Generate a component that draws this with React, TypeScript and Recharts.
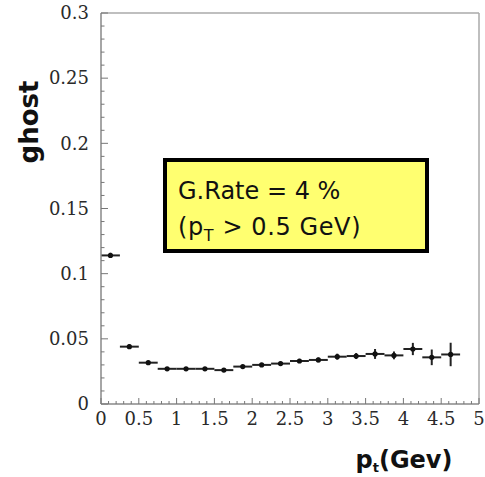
import { ScatterChart, Scatter, XAxis, YAxis, ErrorBar, ReferenceLine } from 'recharts';

// pt bin centres (GeV) and measured ghost rate per bin
const PT_BINS = [0.125, 0.375, 0.625, 0.875, 1.125, 1.375, 1.625, 1.875, 2.125, 2.375, 2.625, 2.875, 3.125, 3.375, 3.625, 3.875, 4.125, 4.375, 4.625];
const GHOST_RATE = [0.114, 0.044, 0.0317, 0.027, 0.027, 0.027, 0.026, 0.0287, 0.03, 0.031, 0.033, 0.0338, 0.0363, 0.0368, 0.0384, 0.0373, 0.0422, 0.0358, 0.038];
const RATE_ERR = [0.002, 0.0018, 0.0015, 0.0012, 0.0012, 0.0012, 0.0012, 0.0013, 0.0014, 0.0015, 0.0016, 0.0018, 0.0023, 0.0023, 0.0038, 0.003, 0.0047, 0.006, 0.009];
const BIN_HALF_WIDTH = 0.125;

const X_MAJOR = [0, 0.5, 1, 1.5, 2, 2.5, 3, 3.5, 4, 4.5, 5];
const X_LABELS = ['0', '0.5', '1', '1.5', '2', '2.5', '3', '3.5', '4', '4.5', '5'];
const Y_MAJOR = [0, 0.05, 0.1, 0.15, 0.2, 0.25, 0.3];
const Y_LABELS = ['0', '0.05', '0.1', '0.15', '0.2', '0.25', '0.3'];

const X_MINOR_STEP = 0.1;
const Y_MINOR_STEP = 0.01;

const data = PT_BINS.map((pt, i) => ({
  pt,
  rate: GHOST_RATE[i],
  xErr: BIN_HALF_WIDTH,
  yErr: RATE_ERR[i],
}));

const xTicks = Array.from({ length: 51 }, (_, i) => Math.round(i * X_MINOR_STEP * 1000) / 1000);
const yTicks = Array.from({ length: 31 }, (_, i) => Math.round(i * Y_MINOR_STEP * 1000) / 1000);

const majorIndex = (list: number[], v: number) => list.findIndex((m) => Math.abs(m - v) < 1e-6);

const TICK_COLOR = '#777';
const LABEL_FONT = '"DejaVu Serif", "Liberation Serif", serif';
const SANS = '"DejaVu Sans", sans-serif';

function XTick(props: any) {
  const { x, y, payload } = props;
  const idx = majorIndex(X_MAJOR, payload.value);
  const len = idx >= 0 ? 6 : 3;
  return (
    <g>
      <line x1={x} x2={x} y1={y} y2={y - len} stroke={TICK_COLOR} strokeWidth={1} />
      {idx >= 0 && (
        <text x={x} y={y + 21} textAnchor="middle" fontSize={18} style={{ fontFamily: LABEL_FONT }} fill="#2a2a2a">
          {X_LABELS[idx]}
        </text>
      )}
    </g>
  );
}

function YTick(props: any) {
  const { x, y, payload } = props;
  const idx = majorIndex(Y_MAJOR, payload.value);
  const len = idx >= 0 ? 7 : 3.5;
  return (
    <g>
      <line x1={x} x2={x + len} y1={y} y2={y} stroke={TICK_COLOR} strokeWidth={1} />
      {idx >= 0 && (
        <text x={x - 12} y={y} dy="0.35em" textAnchor="end" fontSize={18} style={{ fontFamily: LABEL_FONT }} fill="#2a2a2a">
          {Y_LABELS[idx]}
        </text>
      )}
    </g>
  );
}

function Point(props: any) {
  const { cx, cy } = props;
  return <circle cx={cx} cy={cy} r={2.6} fill="#111" />;
}

export default function App() {
  return (
    <div style={{ position: 'absolute', left: 0, top: 0, width: 485, height: 477, background: '#fff' }}>
      <ScatterChart width={485} height={477} margin={{ top: 13, right: 6, bottom: 33, left: 41 }}>
        <XAxis
          type="number"
          dataKey="pt"
          domain={[0, 5]}
          ticks={xTicks}
          interval={0}
          tickSize={0}
          tickMargin={0}
          tickLine={false}
          tick={<XTick />}
          height={40}
          axisLine={{ stroke: '#888', strokeWidth: 1.5 }}
        />
        <YAxis
          type="number"
          dataKey="rate"
          domain={[0, 0.3]}
          ticks={yTicks}
          interval={0}
          tickSize={0}
          tickMargin={0}
          tickLine={false}
          tick={<YTick />}
          width={60}
          axisLine={{ stroke: '#888', strokeWidth: 1.5 }}
        />
        <ReferenceLine y={0.3} stroke="#aaa" strokeWidth={1.5} />
        <ReferenceLine x={5} stroke="#aaa" strokeWidth={1.5} />
        <Scatter data={data} isAnimationActive={false} shape={<Point />} fill="#111">
          <ErrorBar dataKey="xErr" direction="x" width={0} stroke="#222" strokeWidth={2} isAnimationActive={false} />
          <ErrorBar dataKey="yErr" direction="y" width={0} stroke="#222" strokeWidth={2} isAnimationActive={false} />
        </Scatter>
      </ScatterChart>
      <svg width={485} height={477} style={{ position: 'absolute', left: 0, top: 0, pointerEvents: 'none' }}>
        <rect x={165} y={160} width={262} height={91} fill="#ffff70" stroke="#000" strokeWidth={4} />
        <text x={178} y={199} fontSize={24} style={{ fontFamily: SANS }} fill="#111">
          G.Rate = 4 %
        </text>
        <text x={178} y={235} fontSize={24} letterSpacing={0.6} style={{ fontFamily: SANS }} fill="#111">
          (p<tspan fontSize={16} dy={6}>T</tspan>
          <tspan dy={-6}> &gt; 0.5 GeV)</tspan>
        </text>
        <text
          x={38}
          y={122}
          transform="rotate(-90, 38, 122)"
          textAnchor="middle"
          fontSize={26}
          fontWeight="bold"
          style={{ fontFamily: SANS }}
          fill="#111"
        >
          ghost
        </text>
        <text x={404} y={468} textAnchor="middle" fontSize={24} fontWeight="bold" style={{ fontFamily: SANS }} fill="#111">
          p<tspan fontSize={13} dy={4}>t</tspan>
          <tspan dy={-4}>(Gev)</tspan>
        </text>
      </svg>
    </div>
  );
}
